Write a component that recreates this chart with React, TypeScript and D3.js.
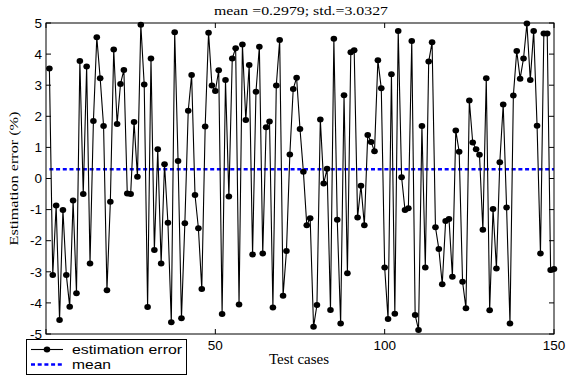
import React from 'react';
import * as d3 from 'd3';

const errors: number[] = [
  3.54, -3.1, -0.87, -4.55, -1.01, -3.1, -4.12, -0.71, -3.69, 3.78,
  -0.5, 3.6, -2.73, 1.85, 4.54, 3.22, 1.69, -3.59, -0.75, 4.15,
  1.75, 3.04, 3.49, -0.48, -0.5, 1.82, 0.06, 4.94, 3.02, -4.13,
  3.86, -2.3, 0.94, -2.73, 0.46, -1.42, -4.62, 4.7, 0.56, -4.49,
  -1.44, 2.18, 3.33, -0.53, -1.6, -3.55, 1.67, 4.69, 2.99, 2.81,
  3.48, -4.36, 3.17, -0.58, 3.86, 4.19, -4.05, 4.31, 1.88, 3.65,
  -2.44, 2.79, 4.24, -2.41, 1.65, 1.83, -4.15, 2.99, 4.45, -3.77,
  -2.33, 0.77, 2.88, 3.24, 1.59, 0.22, -1.5, -1.28, -4.77, -4.07,
  1.9, -0.16, 0.31, -4.23, 4.49, -1.33, -4.66, 2.68, -3.05, 4.06,
  4.12, -1.25, -0.23, -1.5, 1.4, 1.17, 0.88, 3.8, 2.9, -2.86,
  -4.52, 3.35, -4.35, 4.74, 0.04, -1.01, -0.96, 4.42, -4.39, -4.87,
  1.69, -2.86, 3.76, 4.38, -1.57, -2.27, -3.4, -1.37, -1.3, -3.16,
  1.54, 0.86, -3.32, -4.17, 2.51, 1.16, 0.94, 0.76, -1.65, 3.22,
  -4.24, -0.98, -2.89, 0.52, 2.38, -0.93, -4.66, 2.67, 4.1, 3.21,
  3.86, 4.98, 3.17, 4.74, 1.7, -2.41, 4.66, 4.66, -2.94, -2.91,
];
const meanValue = 0.2979;
const titleText = 'mean =0.2979; std.=3.0327';
const xTicks = [0, 50, 100, 150];
const yTicks = [-5, -4, -3, -2, -1, 0, 1, 2, 3, 4, 5];
const xLabel = 'Test cases';
const yLabel = 'Estimation error (%)';
const legendLabels = ['estimation error', 'mean'];

const W = 566;
const H = 379;
const L = 46, R = 554, T = 23, B = 334;
const SANS = '"Liberation Sans", Arial, sans-serif';
const SERIF = '"Liberation Serif", "Times New Roman", serif';

export default function App() {
  const x = d3.scaleLinear().domain([0, 150]).range([L, R]);
  const y = d3.scaleLinear().domain([-5, 5]).range([B, T]);
  const pts = errors.map((v, i) => [i + 1, v] as [number, number]);
  const line = d3.line<[number, number]>().x(d => x(d[0])).y(d => y(d[1]));
  const tick = 5;
  return (
    <svg width={W} height={H} style={{ position: 'absolute', left: 0, top: 0, background: '#fff' }}>
      <rect x={0} y={0} width={W} height={H} fill="#fff" />
      <text x={301} y={15} textAnchor="middle" fontFamily={SERIF} fontSize={13} textLength={174} lengthAdjust="spacingAndGlyphs">{titleText}</text>
      <line x1={x(1)} x2={x(150)} y1={y(meanValue)} y2={y(meanValue)} stroke="#0000ff" strokeWidth={2.6} strokeDasharray="4,2.7" />
      <path d={line(pts) || ''} fill="none" stroke="#000" strokeWidth={1.1} />
      {pts.map((p, i) => (
        <ellipse key={i} cx={x(p[0])} cy={y(p[1])} rx={3.3} ry={3} fill="#000" />
      ))}
      <rect x={L} y={T} width={R - L} height={B - T} fill="none" stroke="#000" strokeWidth={1} />
      {xTicks.map(t => (
        <g key={'x' + t}>
          <line x1={x(t)} x2={x(t)} y1={B} y2={B - tick} stroke="#000" />
          <line x1={x(t)} x2={x(t)} y1={T} y2={T + tick} stroke="#000" />
          <text x={x(t)} y={350} textAnchor="middle" fontFamily={SANS} fontSize={13.5}>{t}</text>
        </g>
      ))}
      {yTicks.map(t => (
        <g key={'y' + t}>
          <line x1={L} x2={L + tick} y1={y(t)} y2={y(t)} stroke="#000" />
          <line x1={R} x2={R - tick} y1={y(t)} y2={y(t)} stroke="#000" />
          <text x={L - 4} y={y(t)} dy="0.35em" textAnchor="end" fontFamily={SANS} fontSize={13.5}>{t}</text>
        </g>
      ))}
      <text x={299} y={364} textAnchor="middle" fontFamily={SERIF} fontSize={15}>{xLabel}</text>
      <text transform={`translate(18,${(T + B) / 2}) rotate(-90)`} textAnchor="middle" fontFamily={SERIF} fontSize={13} textLength={134} lengthAdjust="spacingAndGlyphs">{yLabel}</text>
      <g>
        <rect x={26.5} y={339.5} width={160} height={35} fill="#fff" stroke="#000" strokeWidth={1} />
        <line x1={31} x2={63} y1={349.5} y2={349.5} stroke="#000" strokeWidth={1.1} />
        <ellipse cx={47} cy={349.5} rx={3.3} ry={3} fill="#000" />
        <text x={72} y={354} fontFamily={SANS} fontSize={13} textLength={110} lengthAdjust="spacingAndGlyphs">{legendLabels[0]}</text>
        <line x1={31} x2={63} y1={364.5} y2={364.5} stroke="#0000ff" strokeWidth={2.6} strokeDasharray="4,2.7" />
        <text x={72} y={369} fontFamily={SANS} fontSize={13} textLength={39} lengthAdjust="spacingAndGlyphs">{legendLabels[1]}</text>
      </g>
    </svg>
  );
}
